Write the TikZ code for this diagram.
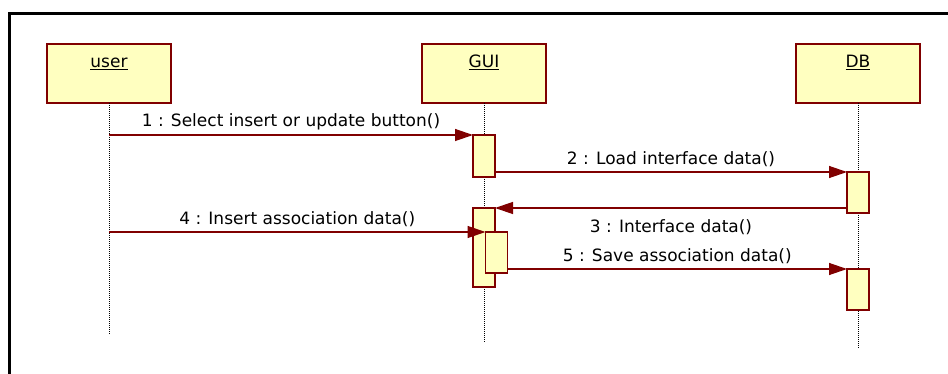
\documentclass[tikz,border=0pt]{standalone}
\usepackage{fontspec}
\setmainfont{DejaVu Sans}
\usetikzlibrary{arrows.meta}
\definecolor{umlred}{RGB}{128,0,0}
\definecolor{umlfill}{RGB}{255,255,192}

\begin{document}
\begin{tikzpicture}[x=1pt,y=-1pt,
    obj/.style={draw=umlred,fill=umlfill,line width=1.5pt,minimum width=124pt,inner sep=0pt,outer sep=0pt,text height=24pt,text depth=35pt,font=\fontsize{17}{19}\selectfont},
    act/.style={draw=umlred,fill=umlfill,line width=1.5pt,minimum width=22pt,inner sep=0pt,outer sep=0pt},
    life/.style={densely dotted,line width=1pt},
    msg/.style={draw=umlred,line width=1.3pt,-{Triangle[length=18pt,width=12pt]}},
    lbl/.style={inner sep=4.5pt,font=\fontsize{17}{19}\selectfont}]
    \useasboundingbox (0,0) rectangle (948,374);
    % Cadre et objets
    \draw[line width=3pt] (9.5,380) -- (9.5,13.5) -- (960,13.5);
    \node[obj] (user) at (109,73.5) {\underline{user}};
    \node[obj] (gui) at (484,73.5) {\underline{GUI}};
    \node[obj] (db) at (858,73.5) {\underline{DB}};
    \coordinate (userend) at (109,335);
    \coordinate (guiend) at (484,342);
    \coordinate (dbend) at (858,348);
    \draw[life] (user.south) -- (userend);
    \draw[life] (gui.south) -- (guiend);
    \draw[life] (db.south) -- (dbend);

    \node[act,minimum height=42pt] (gui1) at (484,156) {};
    \node[act,minimum height=41pt] (db1) at (858,192.5) {};
    \node[act,minimum height=79pt] (gui2) at (484,247.5) {};
    \node[act,minimum height=41pt] (gui3) at (496.5,252.5) {};
    \node[act,minimum height=41pt] (db2) at (858,289.5) {};
    \coordinate (u1) at (109,135);
    \coordinate (u4) at (109,232);

    \draw[msg] (u1) -- node[lbl,above]{1 : Select insert or update button()} (gui1.north west);
    \draw[msg] (gui1.east |- db1.north) -- node[lbl,above]{2 : Load interface data()} (db1.north west);
    \draw[msg] (db1.west |- gui2.north) -- node[lbl,below=6pt]{3 : Interface data()} (gui2.north east);
    \draw[msg] (u4) -- node[lbl,above]{4 : Insert association data()} (gui3.north west);
    \draw[msg] (gui3.east |- db2.north) -- node[lbl,above]{5 : Save association data()} (db2.north west);
\end{tikzpicture}
\end{document}
